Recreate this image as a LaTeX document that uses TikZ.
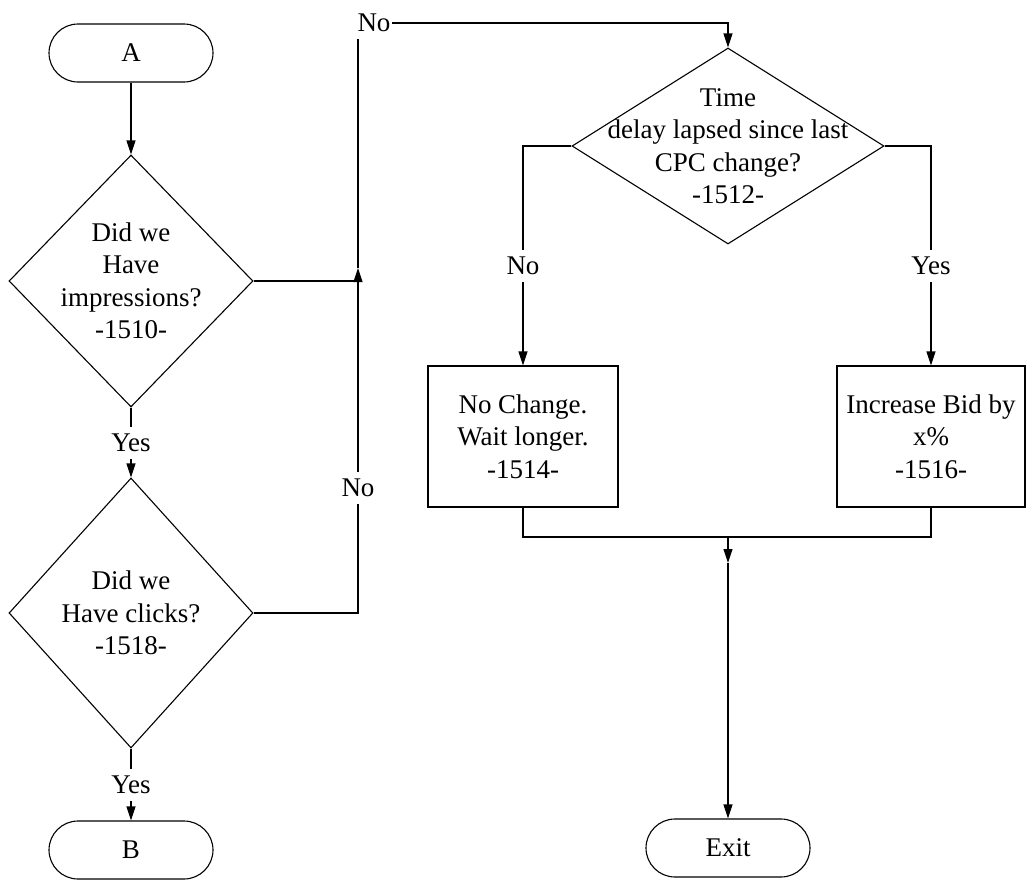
\documentclass[tikz,border=0pt]{standalone}
\usepackage{fontspec}
\setmainfont{Liberation Serif}
\usetikzlibrary{shapes.geometric,shapes.misc,arrows.meta}
\begin{document}
\begin{tikzpicture}[x=1pt,y=-1pt,
  every node/.style={font=\fontsize{27}{32.5}\selectfont},
  line/.style={line width=1.1pt},
  arr/.style={line width=1.1pt, -{Triangle[length=14pt,width=9pt]}},
  term/.style={draw, line width=1.1pt, rounded rectangle, minimum width=164pt, minimum height=58pt, inner sep=0pt},
  dia/.style={draw, line width=1.1pt, diamond, inner sep=0pt},
  proc/.style={draw, line width=1.1pt, rectangle, minimum width=190pt, minimum height=141pt, inner sep=0pt, align=center},
  txt/.style={align=center, inner sep=0pt},
  lab/.style={fill=white, inner xsep=1pt, inner ysep=7pt}]
\useasboundingbox (0,0) rectangle (1026,881);

% nodes
\node[term] (A) at (131,53) {A};
\node[dia, minimum width=244pt, minimum height=252pt] (d1) at (131,281) {};
\node[txt] (t1) at (d1.center) {Did we\\Have\\impressions?\\-1510-};
\node[dia, minimum width=244pt, minimum height=270pt] (d2) at (131,613) {};
\node[txt] (t2) at (d2.center) {Did we\\Have clicks?\\-1518-};
\node[term] (B) at (131,850) {B};
\node[dia, minimum width=312pt, minimum height=196pt] (d3) at (728,146) {};
\node[txt] (t3) at (d3.center) {Time\\delay lapsed since last\\CPC change?\\-1512-};
\node[proc] (p1) at (523,436.5) {No Change.\\Wait longer.\\-1514-};
\node[proc, minimum width=188pt] (p2) at (931,436.5) {Increase Bid by\\x\%\\-1516-};
\node[term] (E) at (728,848) {Exit};

% helper coordinates
\coordinate (up) at (358,268);
\coordinate (j1) at (358,281);
\coordinate (top) at (358,23);
\coordinate (m) at (728,537);
\coordinate (mt) at (728,563);

% connectors
\draw[arr] (A.south) -- (d1.north);
\draw[arr] (d1.south) -- (d2.north);
\draw[arr] (d2.south) -- (B.north);
\draw[arr] (d2.east) -| (up);
\draw[line] (d1.east) -- (j1);
\draw[arr] (up) -- (top) -| (d3.north);
\draw[arr] (d3.west) -| (p1.north);
\draw[arr] (d3.east) -| (p2.north);
\draw[line] (p1.south) |- (m) -| (p2.south);
\draw[arr] (m) -- (mt);
\draw[arr] (mt) -- (E.north);

% labels
\node[lab] (l1) at (131,443) {Yes};
\node[lab] (l2) at (131,785) {Yes};
\node[lab] (l3) at (358,488) {No};
\node[lab] (l4) at (374,23) {No};
\node[lab] (l5) at (523,266) {No};
\node[lab] (l6) at (931,266) {Yes};
\end{tikzpicture}
\end{document}
